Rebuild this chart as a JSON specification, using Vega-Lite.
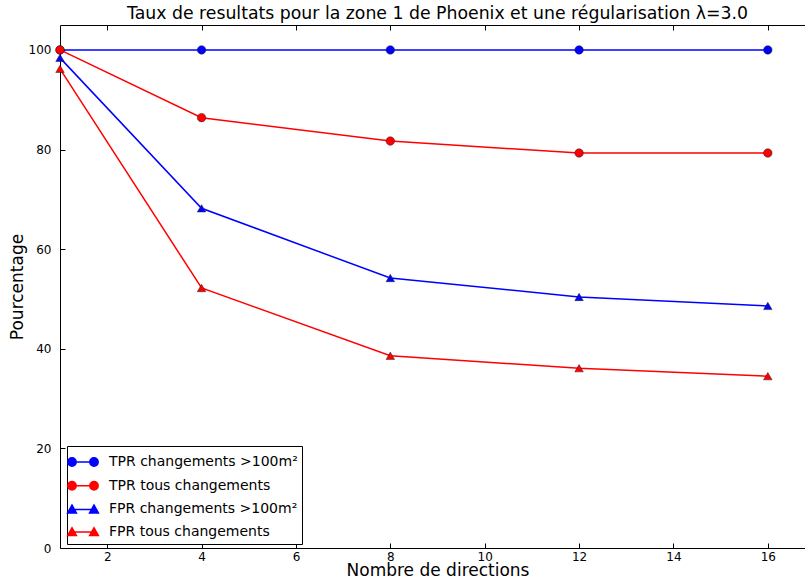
{
  "$schema": "https://vega.github.io/schema/vega-lite/v6.json",
  "width": 755,
  "height": 523,
  "autosize": "none",
  "padding": {"left": 60, "top": 25, "right": 0, "bottom": 36},
  "background": "white",
  "title": {"text": "Taux de resultats pour la zone 1 de Phoenix et une régularisation λ=3.0", "font": "DejaVu Sans", "fontSize": 17.3, "fontWeight": "normal", "color": "black", "anchor": "middle", "offset": 2},
  "config": {
    "view": {"stroke": "black", "strokeWidth": 1},
    "axis": {"labelFont": "DejaVu Sans", "titleFont": "DejaVu Sans", "labelFontSize": 12, "titleFontSize": 17, "titleFontWeight": "normal", "labelColor": "black", "titleColor": "black", "domain": false, "tickColor": "black", "grid": false, "tickSize": 5, "offset": -5, "labelPadding": 8}
  },
  "data": {"values": [
    {"x": 1, "v": 100, "s": "TPR changements >100m²"},
    {"x": 4, "v": 100, "s": "TPR changements >100m²"},
    {"x": 8, "v": 100, "s": "TPR changements >100m²"},
    {"x": 12, "v": 100, "s": "TPR changements >100m²"},
    {"x": 16, "v": 100, "s": "TPR changements >100m²"},
    {"x": 1, "v": 100, "s": "TPR tous changements"},
    {"x": 4, "v": 86.4, "s": "TPR tous changements"},
    {"x": 8, "v": 81.7, "s": "TPR tous changements"},
    {"x": 12, "v": 79.3, "s": "TPR tous changements"},
    {"x": 16, "v": 79.3, "s": "TPR tous changements"},
    {"x": 1, "v": 98.4, "s": "FPR changements >100m²"},
    {"x": 4, "v": 68.2, "s": "FPR changements >100m²"},
    {"x": 8, "v": 54.2, "s": "FPR changements >100m²"},
    {"x": 12, "v": 50.4, "s": "FPR changements >100m²"},
    {"x": 16, "v": 48.6, "s": "FPR changements >100m²"},
    {"x": 1, "v": 96.2, "s": "FPR tous changements"},
    {"x": 4, "v": 52.2, "s": "FPR tous changements"},
    {"x": 8, "v": 38.6, "s": "FPR tous changements"},
    {"x": 12, "v": 36.1, "s": "FPR tous changements"},
    {"x": 16, "v": 34.5, "s": "FPR tous changements"}
  ]},
  "encoding": {
    "y": {"field": "v", "type": "quantitative", "scale": {"domain": [0, 105], "nice": false}, "axis": {"values": [0, 20, 40, 60, 80, 100], "title": "Pourcentage", "titlePadding": 2, "labelPadding": 9}},
    "color": {"field": "s", "type": "nominal", "sort": null,
      "scale": {"domain": ["TPR changements >100m²", "TPR tous changements", "FPR changements >100m²", "FPR tous changements"], "range": ["#0000ff", "#ff0000", "#0000ff", "#ff0000"]},
      "legend": {"title": null, "orient": "none", "legendX": 7, "legendY": 421, "strokeColor": "black", "fillColor": "white", "padding": 4, "labelFont": "DejaVu Sans", "labelFontSize": 14, "labelColor": "black", "labelLimit": 400, "symbolSize": 484, "labelOffset": 14, "rowPadding": 3.7, "symbolStrokeWidth": 1.5,
        "encode": {"symbols": {"update": {
          "shape": {"signal": "indexof(datum.value, 'TPR') == 0 ? 'M-1,0L1,0M-1.38,0A0.38,0.38 0 1,0 -0.62,0A0.38,0.38 0 1,0 -1.38,0ZM0.62,0A0.38,0.38 0 1,0 1.38,0A0.38,0.38 0 1,0 0.62,0Z' : 'M-1,0L1,0M-1.4,0.32L-1,-0.4L-0.6,0.32ZM0.6,0.32L1,-0.4L1.4,0.32Z'"},
          "fill": {"scale": "color", "field": "value"},
          "stroke": {"scale": "color", "field": "value"},
          "opacity": {"value": 1}
        }}}}
    }
  },
  "layer": [
    {"mark": {"type": "line", "strokeWidth": 1.5},
     "encoding": {
       "x": {"field": "x", "type": "quantitative", "scale": {"domain": [1, 17], "nice": false, "zero": false}, "axis": {"values": [2, 4, 6, 8, 10, 12, 14, 16], "title": "Nombre de directions", "titlePadding": 0, "labelPadding": 3}}
     }},
    {"mark": {"type": "point", "filled": true, "size": 72, "opacity": 1, "stroke": "#222", "strokeWidth": 0.5},
     "encoding": {
       "x": {"field": "x", "type": "quantitative", "scale": {"domain": [1, 17], "nice": false, "zero": false}, "axis": {"orient": "top", "values": [2, 4, 6, 8, 10, 12, 14, 16], "labels": false, "title": null}},
       "shape": {"condition": {"test": "indexof(datum.s, 'TPR') == 0", "value": "circle"}, "value": "triangle-up"}
     }}
  ],
  "resolve": {"axis": {"x": "independent"}}
}
